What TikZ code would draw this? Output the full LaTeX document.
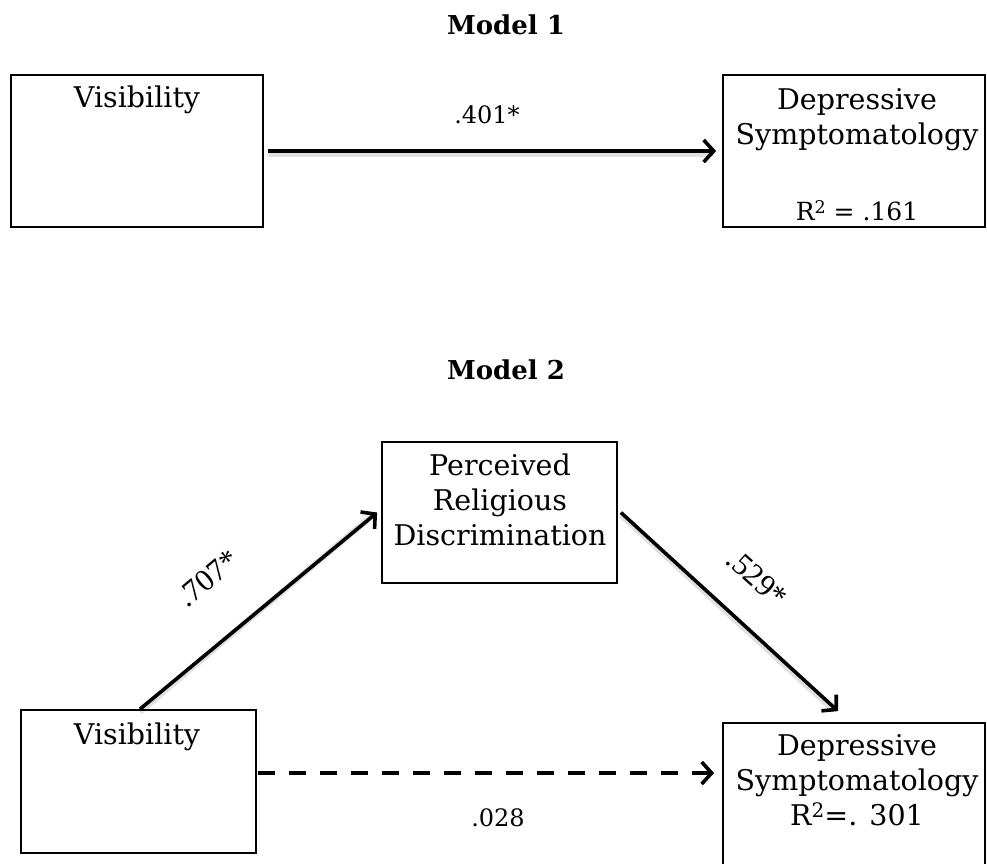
\documentclass[tikz,border=0pt]{standalone}
\usepackage{fontspec}
\setmainfont{DejaVu Serif}
\newfontfamily\timesf{Liberation Serif}
\usetikzlibrary{arrows.meta,calc}
\newcommand{\sqr}{\raisebox{0.55ex}{\scalebox{0.7}{2}}}
\begin{document}
\begin{tikzpicture}[x=1pt,y=-1pt,
  box/.style={draw, line width=1.8pt, inner sep=0pt},
  lbl/.style={font=\fontsize{28.5}{35}\selectfont, align=center, inner sep=0pt},
  ttl/.style={font=\fontsize{26}{30}\selectfont\bfseries, inner sep=0pt},
  coef/.style={font=\fontsize{24}{28}\selectfont, inner sep=0pt},
  coeft/.style={font=\timesf\fontsize{31}{34}\selectfont, inner sep=0pt},
  conn/.style={line width=3.6pt, -{Straight Barb[length=10pt,width=22pt,line width=3.6pt]}},
  shadowline/.style={line width=6pt, black, opacity=0.12, transform canvas={yshift=-2.5pt}}]
\useasboundingbox (0,0) rectangle (987,863);
\clip (0,0) rectangle (987,863);
% Model 1
\node[ttl] (t1) at (506,25) {Model 1};
\node[box, minimum width=252pt, minimum height=152pt] (v1) at (137,151) {};
\node[lbl] (v1t) at (137,100) {Visibility};
\node[box, minimum width=262pt, minimum height=152pt] (ds1) at (854,151) {};
\node[lbl] (ds1t) at (857,120) {Depressive\\Symptomatology};
\node[lbl, font=\fontsize{25}{28}\selectfont] (ds1r) at (857,211) {R\sqr{} = .161};
\draw[shadowline] ([xshift=4pt]v1.east) -- ([xshift=-8pt]ds1.west);
\draw[conn] ([xshift=4pt]v1.east) -- ([xshift=-6pt]ds1.west);
\node[coef] (c1) at (487,115) {.401*};
% Model 2
\node[ttl] (t2) at (506,370) {Model 2};
\node[box, minimum width=235pt, minimum height=141pt] (prd) at (499.5,512.5) {};
\node[lbl] (prdt) at (500,500) {Perceived\\Religious\\Discrimination};
\node[box, minimum width=235pt, minimum height=143pt] (v2) at (138.5,781.5) {};
\node[lbl] (v2t) at (137,737) {Visibility};
\node[box, minimum width=262pt, minimum height=177pt] (ds2) at (854,811.5) {};
\node[lbl] (ds2t) at (857,780) {Depressive\\Symptomatology\\R\sqr{}=. 301};
\draw[shadowline] ([xshift=1.5pt]v2.north) -- ([xshift=-8pt]prd.west);
\draw[conn] ([xshift=1.5pt]v2.north) -- ([xshift=-4pt]prd.west);
\draw[shadowline] ([xshift=3pt]prd.east) -- ([xshift=-20pt,yshift=14pt]ds2.north);
\draw[conn] ([xshift=3pt]prd.east) -- ([xshift=-16pt,yshift=11pt]ds2.north);
\draw[conn, dash pattern=on 17pt off 14pt] ($(v2.east)+(1,-8.5)$) -- ($(ds2.west)+(-8,-38.5)$);
\node[coeft, rotate=40] (c2) at (208,578) {.707*};
\node[coeft, rotate=-42] (c3) at (757,578) {.529*};
\node[coef] (c4) at (498,818) {.028};
\end{tikzpicture}
\end{document}
